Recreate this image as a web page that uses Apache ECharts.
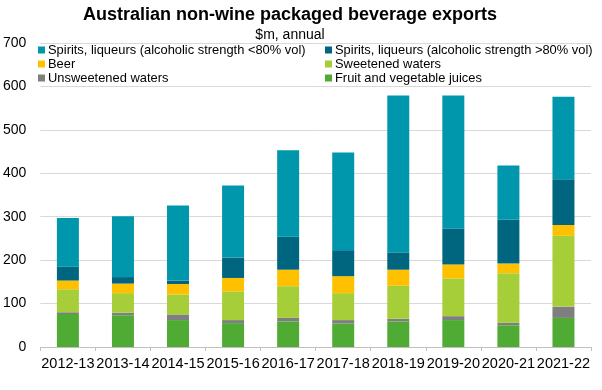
<!DOCTYPE html>
<html><head><meta charset="utf-8">
<script src="https://cdn.jsdelivr.net/npm/echarts@6/dist/echarts.min.js"></script>
<style>html,body{margin:0;padding:0;background:#fff}#c{width:602px;height:390px}</style>
</head><body><div id="c"></div>
<script>
const categories = ['2012-13','2013-14','2014-15','2015-16','2016-17','2017-18','2018-19','2019-20','2020-21','2021-22'];
const juices      = [76, 73, 62, 55, 59, 54, 59, 62, 50, 67];
const unsweetened = [4, 6, 13, 7, 8, 8, 6, 9, 6, 26];
const sweetened   = [53, 45, 46, 66, 73, 62, 76, 87, 114, 163];
const beer        = [20, 22, 24, 31, 38, 39, 37, 32, 22, 25];
const spiritsHigh = [32, 15, 8, 47, 76, 60, 40, 83, 101, 105];
const spiritsLow  = [112, 140, 173, 166, 199, 225, 361, 306, 125, 190];
const names = {
  low: 'Spirits, liqueurs (alcoholic strength <80% vol)',
  high: 'Spirits, liqueurs (alcoholic strength >80% vol)',
  beer: 'Beer', sweet: 'Sweetened waters', unsweet: 'Unsweetened waters', juice: 'Fruit and vegetable juices'
};
const font = 'Liberation Sans, Arial, sans-serif';
function s(name, data, color) {
  return { name, type: 'bar', stack: 't', data, barWidth: 22,
    itemStyle: { color }, emphasis: { disabled: true } };
}
const legendCommon = { orient: 'vertical', top: 38, itemWidth: 7, itemHeight: 7, itemGap: 0, icon: 'rect',
  textStyle: { fontFamily: font, fontSize: 12.9, lineHeight: 14, color: '#000', padding: [0,0,0,-2] } };
const chart = echarts.init(document.getElementById('c'));
chart.setOption({
  animation: false,
  title: [
    { text: 'Australian non-wine packaged beverage exports', left: 290, textAlign: 'center', top: 6, padding: 0,
      textStyle: { fontFamily: font, fontSize: 18, fontWeight: 'bold', color: '#000' } },
    { text: '$m, annual', left: 290, textAlign: 'center', top: 28, padding: 0,
      textStyle: { fontFamily: font, fontSize: 14, fontWeight: 'normal', color: '#000' } }
  ],
  legend: [
    Object.assign({ left: 33, data: [names.low, names.beer, names.unsweet] }, legendCommon),
    Object.assign({ left: 320, data: [names.high, names.sweet, names.juice] }, legendCommon)
  ],
  grid: { left: 40, right: 11, top: 43, bottom: 43 },
  xAxis: {
    type: 'category', data: categories,
    axisLine: { lineStyle: { color: '#bfbfbf' } },
    axisTick: { show: true, length: 4, lineStyle: { color: '#bfbfbf' } },
    axisLabel: { fontFamily: font, fontSize: 14.5, color: '#000', interval: 0, margin: 9 }
  },
  yAxis: {
    type: 'value', min: 0, max: 700, interval: 100,
    axisLine: { show: false }, axisTick: { show: false },
    splitLine: { lineStyle: { color: '#d9d9d9' } },
    axisLabel: { fontFamily: font, fontSize: 14, color: '#000', margin: 14 }
  },
  series: [
    s(names.juice, juices, '#4fab33'),
    s(names.unsweet, unsweetened, '#7f7f7f'),
    s(names.sweet, sweetened, '#a6ce39'),
    s(names.beer, beer, '#ffc000'),
    s(names.high, spiritsHigh, '#00667f'),
    s(names.low, spiritsLow, '#0096ab')
  ]
});
</script></body></html>
